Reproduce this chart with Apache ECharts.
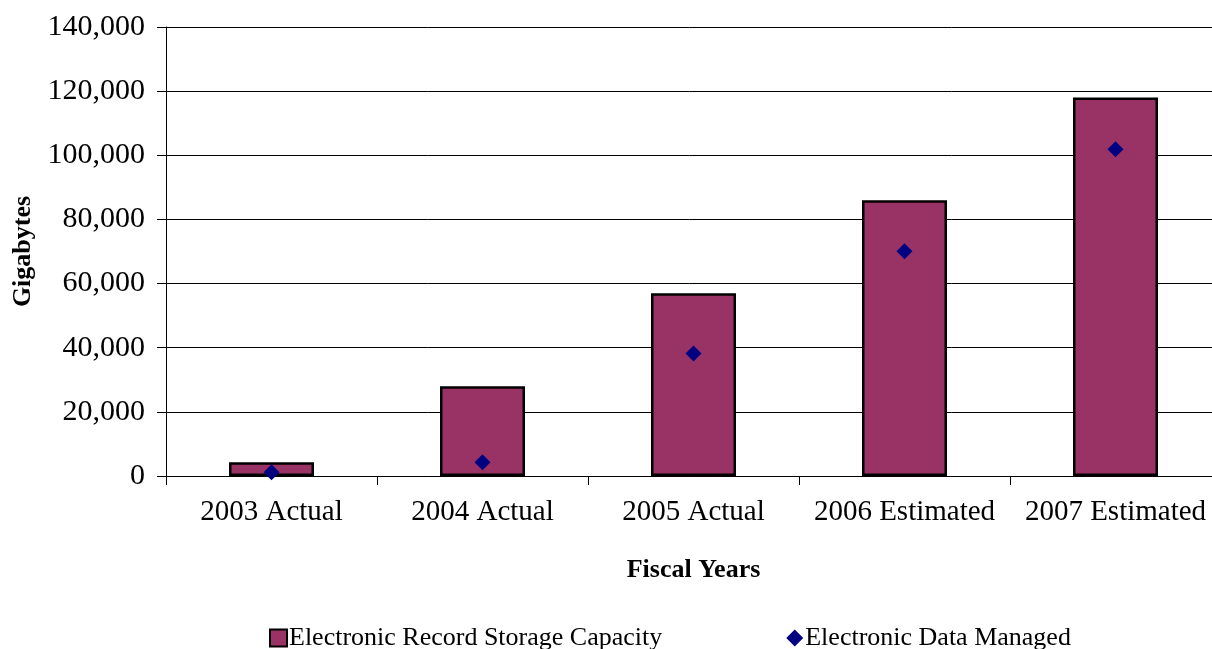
<!DOCTYPE html>
<html lang="en">
<head>
    <meta charset="UTF-8">
    <title>Electronic Records</title>
    <script src="https://cdn.jsdelivr.net/npm/echarts@6/dist/echarts.min.js"></script>
    <style>
        html, body { margin: 0; padding: 0; background: #fff; }
        #main { width: 1212px; height: 649px; }
    </style>
</head>
<body>
    <div id="main"></div>
    <script>
        // fiscal years on the x axis
        const categories = ['2003 Actual', '2004 Actual', '2005 Actual', '2006 Estimated', '2007 Estimated'];
        // gigabytes
        const storageCapacity = [4300, 28000, 57000, 86000, 118000];
        const dataManaged = [1200, 4300, 38200, 70100, 101900];

        const serif = 'Liberation Serif';
        let chart = echarts.init(document.getElementById('main'));

        let option = {
            animation: false,
            textStyle: { fontFamily: serif, color: '#000' },
            grid: { left: 166, right: -9, top: 27, bottom: 173, outerBoundsMode: 'none' },
            legend: {
                left: 264,
                top: 620,
                itemGap: 124,
                itemWidth: 17,
                itemHeight: 17,
                textStyle: { fontFamily: serif, fontSize: 26, color: '#000', padding: [0, 0, 0, -3] },
                data: [
                    { name: 'Electronic Record Storage Capacity', icon: 'rect',
                      itemStyle: { color: '#993366', borderColor: '#000', borderWidth: 2 } },
                    { name: 'Electronic Data Managed', icon: 'diamond',
                      itemStyle: { color: '#000080' } }
                ]
            },
            xAxis: {
                type: 'category',
                data: categories,
                name: 'Fiscal Years',
                nameLocation: 'middle',
                nameGap: 81,
                nameTextStyle: { fontFamily: serif, fontSize: 26, fontWeight: 'bold', color: '#000' },
                axisLine: { lineStyle: { color: '#000', width: 1 } },
                axisTick: { show: true, interval: 0, length: 9, lineStyle: { color: '#000' } },
                axisLabel: { interval: 0, fontFamily: serif, fontSize: 29, color: '#000', margin: 22 }
            },
            yAxis: {
                type: 'value',
                min: 0,
                max: 140000,
                interval: 20000,
                name: 'Gigabytes',
                nameLocation: 'middle',
                nameGap: 129,
                nameRotate: 90,
                nameTextStyle: { fontFamily: serif, fontSize: 26, fontWeight: 'bold', color: '#000' },
                axisLine: { show: true, lineStyle: { color: '#000', width: 1 } },
                axisTick: { show: true, length: 9, lineStyle: { color: '#000' } },
                axisLabel: {
                    fontFamily: serif, fontSize: 30, color: '#000', margin: 21,
                    formatter: v => v.toLocaleString('en-US')
                },
                splitLine: { show: true, lineStyle: { color: '#000', width: 1 } }
            },
            series: [
                {
                    name: 'Electronic Record Storage Capacity',
                    type: 'bar',
                    data: storageCapacity,
                    barWidth: 85,
                    itemStyle: { color: '#993366', borderColor: '#000', borderWidth: 2.5 }
                },
                {
                    name: 'Electronic Data Managed',
                    type: 'scatter',
                    data: dataManaged,
                    symbol: 'diamond',
                    symbolSize: 16,
                    itemStyle: { color: '#000080', opacity: 1 },
                    z: 5
                }
            ]
        };

        chart.setOption(option);
    </script>
</body>
</html>
